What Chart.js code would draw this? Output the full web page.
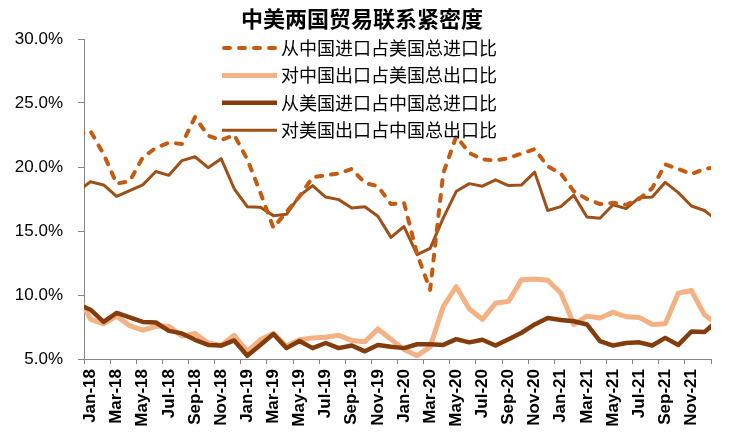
<!DOCTYPE html>
<html>
<head>
<meta charset="utf-8">
<script src="https://cdn.jsdelivr.net/npm/chart.js@4.4.1/dist/chart.umd.min.js"></script>
<style>
  html, body { margin: 0; padding: 0; background: #fff; }
</style>
</head>
<body>
<canvas id="chart" width="744" height="446"></canvas>
<script>
// months Dec-17 .. Jan-22 (first and last only feed the clipped edge segments)
const months = [
  "Dec-17",
  "Jan-18", "Feb-18", "Mar-18", "Apr-18", "May-18", "Jun-18", "Jul-18", "Aug-18", "Sep-18", "Oct-18", "Nov-18", "Dec-18",
  "Jan-19", "Feb-19", "Mar-19", "Apr-19", "May-19", "Jun-19", "Jul-19", "Aug-19", "Sep-19", "Oct-19", "Nov-19", "Dec-19",
  "Jan-20", "Feb-20", "Mar-20", "Apr-20", "May-20", "Jun-20", "Jul-20", "Aug-20", "Sep-20", "Oct-20", "Nov-20", "Dec-20",
  "Jan-21", "Feb-21", "Mar-21", "Apr-21", "May-21", "Jun-21", "Jul-21", "Aug-21", "Sep-21", "Oct-21", "Nov-21", "Dec-21",
  "Jan-22"
];

// 从中国进口占美国总进口比
const usImportFromChina = [
  22.5,
  22.8, 21.0, 18.7, 18.9, 20.75, 21.5, 21.9, 21.8, 23.9, 22.45, 22.1, 22.5,
  20.6, 18.0, 15.25, 16.5, 17.7, 19.2, 19.35, 19.5, 19.85, 18.75, 18.5, 17.1,
  17.2, 13.2, 10.4, 19.5, 22.4, 21.1, 20.6, 20.5, 20.7, 21.05, 21.4, 20.05,
  19.5, 18.1, 17.5, 17.1, 17.2, 17.05, 17.5, 18.35, 20.2, 19.85, 19.45, 19.85,
  20.0
];

// 对中国出口占美国总出口比
const usExportToChina = [
  10.0,
  8.1, 7.75, 8.35, 7.6, 7.25, 7.55, 7.55, 6.8, 7.0, 6.25, 6.05, 6.85,
  5.6, 6.5, 7.0, 6.0, 6.5, 6.65, 6.7, 6.85, 6.45, 6.35, 7.35, 6.55,
  5.75, 5.25, 5.95, 9.1, 10.65, 8.9, 8.1, 9.35, 9.5, 11.2, 11.25, 11.15,
  10.15, 7.7, 8.35, 8.2, 8.65, 8.3, 8.25, 7.7, 7.75, 10.15, 10.35, 8.45,
  7.7
];

// 从美国进口占中国总进口比
const cnImportFromUS = [
  9.3,
  8.85, 7.9, 8.6, 8.25, 7.9, 7.85, 7.2, 7.0, 6.5, 6.1, 6.05, 6.45,
  5.25, 6.1, 6.95, 5.85, 6.4, 5.85, 6.25, 5.85, 6.05, 5.6, 6.1, 5.95,
  5.85, 6.15, 6.15, 6.1, 6.55, 6.3, 6.5, 6.05, 6.55, 7.05, 7.7, 8.2,
  8.05, 7.95, 7.7, 6.4, 6.05, 6.25, 6.3, 6.05, 6.65, 6.1, 7.15, 7.1,
  8.0
];

// 对美国出口占中国总出口比
const cnExportToUS = [
  18.1,
  18.85, 18.6, 17.7, 18.15, 18.6, 19.65, 19.35, 20.5, 20.8, 19.95, 20.65, 18.3,
  16.9, 16.85, 16.2, 16.3, 17.75, 18.55, 17.65, 17.45, 16.8, 16.9, 16.15, 14.5,
  15.35, 13.15, 13.65, 16.0, 18.1, 18.7, 18.5, 19.0, 18.55, 18.6, 19.6, 16.6,
  16.9, 17.8, 16.1, 16.0, 17.05, 16.75, 17.6, 17.65, 18.8, 18.0, 16.95, 16.6,
  15.8
];

const yTicks = [5, 10, 15, 20, 25, 30];
const titleText = "中美两国贸易联系紧密度";

// month index: Jan-18 = 0
function toPoints(arr) {
  return arr.map((v, i) => ({ x: i - 1, y: v }));
}

const numFont = "'Liberation Sans', Arial, sans-serif";
const cjkFont = "'Noto Sans CJK SC', 'Noto Sans', sans-serif";

const titleAndLegend = {
  id: "titleAndLegend",
  afterDraw(chart) {
    const ctx = chart.ctx;
    ctx.save();
    ctx.fillStyle = "#000";
    ctx.textBaseline = "middle";
    ctx.textAlign = "center";
    ctx.font = "bold 22px " + cjkFont;
    ctx.fillText(titleText, 362, 19);

    ctx.font = "18px " + cjkFont;
    ctx.textAlign = "left";
    chart.data.datasets.forEach((ds, i) => {
      const y = 48 + i * 27.4;
      ctx.beginPath();
      ctx.strokeStyle = ds.borderColor;
      ctx.lineWidth = ds.borderWidth;
      ctx.setLineDash(ds.borderDash || []);
      ctx.lineCap = ds.borderCapStyle || "butt";
      const x0 = ds.borderDash ? 224 : 222;
      ctx.moveTo(x0, y);
      ctx.lineTo(277, y);
      ctx.stroke();
      ctx.fillText(ds.label, 281, y);
    });
    ctx.restore();
  }
};

new Chart(document.getElementById("chart"), {
  type: "line",
  data: {
    datasets: [
      {
        label: "从中国进口占美国总进口比",
        data: toPoints(usImportFromChina),
        borderColor: "#C55A11",
        borderWidth: 4,
        borderDash: [6, 9],
        borderCapStyle: "round",
        order: 1
      },
      {
        label: "对中国出口占美国总出口比",
        data: toPoints(usExportToChina),
        borderColor: "#F4B183",
        borderWidth: 5,
        order: 4
      },
      {
        label: "从美国进口占中国总进口比",
        data: toPoints(cnImportFromUS),
        borderColor: "#843C0C",
        borderWidth: 4.5,
        order: 3
      },
      {
        label: "对美国出口占中国总出口比",
        data: toPoints(cnExportToUS),
        borderColor: "#9E5019",
        borderWidth: 3,
        order: 2
      }
    ]
  },
  options: {
    responsive: false,
    animation: false,
    devicePixelRatio: 1,
    layout: { padding: { left: 0, top: 39, right: 33, bottom: 0 } },
    elements: {
      point: { radius: 0, hoverRadius: 0 },
      line: { tension: 0, borderJoinStyle: "round", borderCapStyle: "butt" }
    },
    datasets: { line: { clip: 0 } },
    plugins: {
      legend: { display: false },
      title: { display: false },
      tooltip: { enabled: false }
    },
    scales: {
      x: {
        type: "linear",
        min: -0.5,
        max: 47.5,
        bounds: "data",
        afterFit(scale) { scale.height = 87; },
        afterBuildTicks(scale) {
          const t = [];
          for (let v = -0.5; v <= 47.5; v += 2) t.push({ value: v });
          scale.ticks = t;
        },
        grid: {
          drawOnChartArea: false,
          drawTicks: true,
          tickLength: 5,
          color: "#868686"
        },
        border: { display: true, color: "#868686", width: 1 },
        ticks: {
          autoSkip: false,
          maxRotation: 90,
          minRotation: 90,
          labelOffset: 6.5,
          padding: 5,
          color: "#000",
          font: { family: numFont, size: 17, weight: "bold" },
          callback(value) {
            const m = Math.round(value + 0.5);
            return m >= 0 && m <= 46 ? months[m + 1] : "";
          }
        }
      },
      y: {
        min: 5,
        max: 30,
        afterFit(scale) { scale.width = 84; },
        afterBuildTicks(scale) {
          scale.ticks = yTicks.map(v => ({ value: v }));
        },
        grid: {
          drawOnChartArea: false,
          drawTicks: true,
          tickLength: 6,
          color: "#868686"
        },
        border: { display: true, color: "#868686", width: 1 },
        ticks: {
          padding: 15,
          color: "#000",
          font: { family: numFont, size: 17 },
          callback(value) { return value.toFixed(1) + "%"; }
        }
      }
    }
  },
  plugins: [titleAndLegend]
});
</script>
</body>
</html>
